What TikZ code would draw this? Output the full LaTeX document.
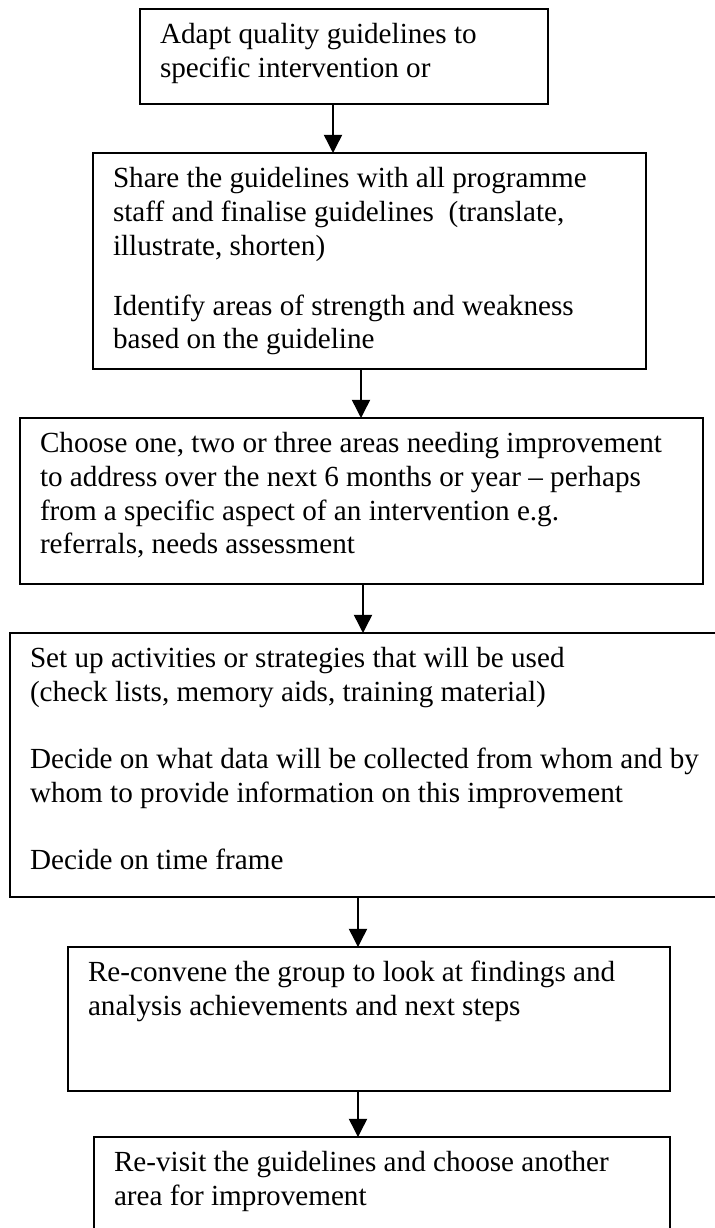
\documentclass[tikz,border=0pt]{standalone}
\usepackage{fontspec}
\setmainfont{Liberation Serif}
\usetikzlibrary{arrows.meta}

\newcommand\stagetext[3]{\parbox[t][#2][t]{#1}{\strut #3}}

\begin{document}
\begin{tikzpicture} [x=0.4115pt, y=-0.4115pt]
\tikzset{
 stage/.style={draw, line width=0.8pt, anchor=north west, outer sep=0pt,
   inner xsep=8.23pt, inner ysep=4.73pt, font=\fontsize{12}{13.8}\selectfont},
 flow/.style={black, line width=0.6pt, ->, >={Triangle[length=7.5pt,width=7.5pt]}}
}
\clip (0,0) rectangle (715,1228);
\fill[white] (0,0) rectangle (715,1228);
\node[stage] (adapt) at (140,9) {\stagetext{151.4pt}{29.6pt}{Adapt quality guidelines to\\specific intervention or}};
\node[stage] (share) at (93,153) {\stagetext{211.1pt}{79.4pt}{Share the guidelines with all programme\\staff and finalise guidelines\ \ (translate,\\illustrate, shorten)\\[11pt]Identify areas of strength and weakness\\based on the guideline}};
\node[stage] (choose) at (20,418) {\stagetext{264.6pt}{58.8pt}{Choose one, two or three areas needing improvement\\to address over the next 6 months or year -- perhaps\\from a specific aspect of an intervention e.g.\\referrals, needs assessment}};
\node[stage] (setup) at (10,633) {\stagetext{283.9pt}{99.2pt}{Set up activities or strategies that will be used\\(check lists, memory aids, training material)\\[13.8pt]Decide on what data will be collected from whom and by\\whom to provide information on this improvement\\[13.8pt]Decide on time frame}};
\node[stage] (reconvene) at (68,947) {\stagetext{231.3pt}{49.8pt}{Re-convene the group to look at findings and\\analysis achievements and next steps}};
\node[stage] (revisit) at (94,1137) {\stagetext{220.6pt}{35.8pt}{Re-visit the guidelines and choose another\\area for improvement}};
\draw[flow] (333,0 |- adapt.south) -- (333,0 |- share.north);
\draw[flow] (361,0 |- share.south) -- (361,0 |- choose.north);
\draw[flow] (363,0 |- choose.south) -- (363,0 |- setup.north);
\draw[flow] (358,0 |- setup.south) -- (358,0 |- reconvene.north);
\draw[flow] (358,0 |- reconvene.south) -- (358,0 |- revisit.north);
\end{tikzpicture}
\end{document}
